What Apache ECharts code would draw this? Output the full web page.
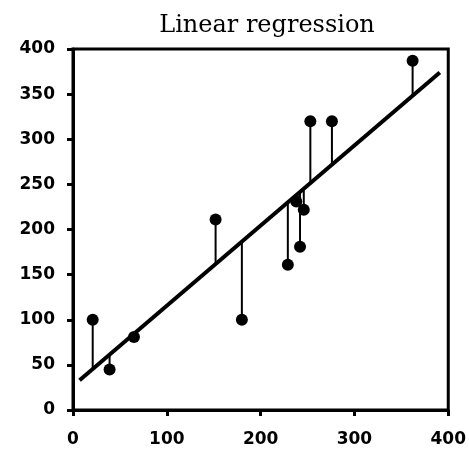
<!DOCTYPE html>
<html>
<head>
<meta charset="utf-8">
<script src="https://cdn.jsdelivr.net/npm/echarts@6/dist/echarts.min.js"></script>
<style>html,body{margin:0;padding:0;background:#fff;}#c{width:469px;height:453px;}</style>
</head>
<body>
<div id="c"></div>
<script>
var titleText = 'Linear regression';
var xValues = [21, 39, 65, 152, 180, 229, 242, 238, 246, 253, 276, 362];
var yValues = [100, 45, 81, 211, 100, 161, 181, 231, 222, 320, 320, 387];
var fittedValues = [45, 61, 84, 161, 186, 230, 241, 238, 245, 251, 272, 348];
var lineX = [7, 391];
var lineY = [33, 374];
var xTicks = [0, 100, 200, 300, 400];
var yTicks = [0, 50, 100, 150, 200, 250, 300, 350, 400];

var points = xValues.map(function (x, i) { return [x, yValues[i]]; });
var residuals = xValues.map(function (x, i) { return [x, yValues[i], fittedValues[i]]; });
var regLine = [[lineX[0], lineY[0]], [lineX[1], lineY[1]]];

var chart = echarts.init(document.getElementById('c'));
var labelStyle = { color: '#000', fontFamily: 'DejaVu Sans', fontWeight: 'bold', fontSize: 17 };
chart.setOption({
  animation: false,
  backgroundColor: '#fff',
  title: {
    text: titleText, left: 262, top: 9, textAlign: 'center',
    textStyle: { fontFamily: 'DejaVu Serif', fontWeight: 'normal', fontSize: 24, color: '#000' }
  },
  grid: { left: 73, right: 19, top: 49, bottom: 43, show: true, borderColor: '#000', borderWidth: 3, backgroundColor: 'transparent' },
  xAxis: {
    type: 'value', min: xTicks[0], max: xTicks[xTicks.length - 1], interval: 100,
    axisLine: { show: true, lineStyle: { color: '#000', width: 3 } },
    axisTick: { show: true, length: 6, lineStyle: { color: '#000', width: 3 } },
    splitLine: { show: false },
    axisLabel: Object.assign({ margin: 21 }, labelStyle)
  },
  yAxis: {
    type: 'value', min: yTicks[0], max: yTicks[yTicks.length - 1], interval: 50,
    axisLine: { show: true, lineStyle: { color: '#000', width: 3 } },
    axisTick: { show: true, length: 6, lineStyle: { color: '#000', width: 3 } },
    splitLine: { show: false },
    axisLabel: Object.assign({ margin: 18 }, labelStyle)
  },
  series: [
    {
      type: 'custom',
      data: residuals,
      renderItem: function (params, api) {
        var a = api.coord([api.value(0), api.value(1)]);
        var b = api.coord([api.value(0), api.value(2)]);
        return { type: 'line', shape: { x1: a[0], y1: a[1], x2: b[0], y2: b[1] }, style: { stroke: '#000', lineWidth: 2 } };
      },
      z: 2
    },
    {
      type: 'line', data: regLine, symbol: 'none',
      lineStyle: { color: '#000', width: 4 }, z: 3
    },
    {
      type: 'scatter', data: points, symbol: 'circle', symbolSize: 12,
      itemStyle: { color: '#000', opacity: 1 }, z: 4
    }
  ]
});
</script>
</body>
</html>
